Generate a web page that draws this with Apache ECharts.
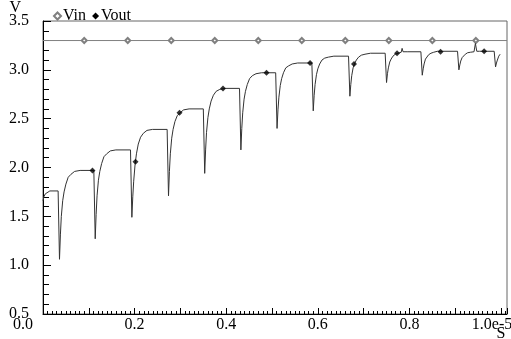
<!DOCTYPE html>
<html>
<head>
<meta charset="utf-8">
<script src="https://cdn.jsdelivr.net/npm/echarts@6/dist/echarts.min.js"></script>
<style>
html,body{margin:0;padding:0;background:#fff;}
#chart{width:511px;height:339px;}
</style>
</head>
<body>
<div id="chart"></div>
<script>
// time values in units of 1e-5 s
var voutT = [
0, 0.002, 0.005, 0.009, 0.015, 0.033,
0.036, 0.038, 0.040, 0.043, 0.046, 0.050, 0.055, 0.061, 0.069, 0.081, 0.111,
0.114, 0.116, 0.118, 0.121, 0.124, 0.128, 0.133, 0.139, 0.147, 0.159, 0.191,
0.194, 0.196, 0.198, 0.201, 0.204, 0.208, 0.213, 0.219, 0.227, 0.239, 0.271,
0.274, 0.276, 0.278, 0.281, 0.284, 0.288, 0.293, 0.299, 0.307, 0.319, 0.350,
0.353, 0.355, 0.357, 0.360, 0.363, 0.367, 0.372, 0.378, 0.386, 0.398, 0.429,
0.432, 0.434, 0.436, 0.439, 0.442, 0.446, 0.451, 0.457, 0.465, 0.477, 0.508,
0.511, 0.513, 0.515, 0.518, 0.521, 0.525, 0.530, 0.536, 0.544, 0.556, 0.587,
0.590, 0.592, 0.594, 0.597, 0.600, 0.604, 0.609, 0.615, 0.623, 0.635, 0.667,
0.670, 0.672, 0.674, 0.677, 0.680, 0.684, 0.689, 0.695, 0.703, 0.715, 0.747,
0.750, 0.752, 0.754, 0.757, 0.760, 0.764, 0.769, 0.775, 0.782, 0.784, 0.786, 0.795, 0.825,
0.828, 0.830, 0.832, 0.835, 0.838, 0.842, 0.847, 0.853, 0.861, 0.873, 0.905,
0.908, 0.910, 0.912, 0.915, 0.918, 0.922, 0.927, 0.933, 0.941, 0.944, 0.947, 0.953, 0.985,
0.988, 0.990, 0.992, 0.995, 0.998
];
var voutV = [
1.66, 1.70, 1.73, 1.75, 1.76, 1.76,
1.06, 1.31, 1.50, 1.66, 1.75, 1.83, 1.90, 1.93, 1.96, 1.97, 1.97,
1.27, 1.52, 1.71, 1.87, 1.96, 2.04, 2.11, 2.14, 2.17, 2.18, 2.18,
1.49, 1.70, 1.86, 2.03, 2.14, 2.24, 2.31, 2.35, 2.38, 2.39, 2.39,
1.71, 1.96, 2.14, 2.30, 2.39, 2.47, 2.53, 2.56, 2.59, 2.60, 2.60,
1.94, 2.18, 2.36, 2.51, 2.60, 2.68, 2.74, 2.78, 2.80, 2.81, 2.81,
2.18, 2.40, 2.56, 2.70, 2.78, 2.85, 2.91, 2.94, 2.96, 2.97, 2.97,
2.40, 2.59, 2.72, 2.84, 2.91, 2.97, 3.02, 3.04, 3.06, 3.07, 3.07,
2.58, 2.74, 2.85, 2.95, 3.01, 3.06, 3.10, 3.12, 3.13, 3.14, 3.14,
2.73, 2.85, 2.94, 3.02, 3.06, 3.10, 3.13, 3.15, 3.16, 3.17, 3.17,
2.87, 2.96, 3.02, 3.08, 3.11, 3.14, 3.16, 3.17, 3.18, 3.22, 3.185, 3.185, 3.185,
2.945, 3.01, 3.06, 3.11, 3.13, 3.155, 3.17, 3.18, 3.19, 3.19, 3.19,
3.00, 3.05, 3.09, 3.125, 3.145, 3.16, 3.175, 3.18, 3.185, 3.27, 3.19, 3.19, 3.19,
3.03, 3.07, 3.10, 3.14, 3.16
];
var voutMarkT = [0.108, 0.202, 0.298, 0.393, 0.488, 0.583, 0.679, 0.773, 0.868, 0.963];
var voutMarkV = [1.97, 2.06, 2.56, 2.81, 2.97, 3.07, 3.06, 3.17, 3.185, 3.19];
var vinLevel = 3.3;
var vinLineT = [0, 1.013];
var vinMarkT = [0.09, 0.185, 0.28, 0.375, 0.47, 0.565, 0.66, 0.755, 0.85, 0.945];
var xTickLabels = {0: '0.0', 2: '0.2', 4: '0.4', 6: '0.6', 8: '0.8', 10: '1.0e-5'};
var yTickLabels = ['0.5', '1.0', '1.5', '2.0', '2.5', '3.0', '3.5'];

var FONT = 'Liberation Serif';
var FS = 16;
var TICK = 'black';
var voutData = voutT.map(function (t, i) { return [t, voutV[i]]; });
var voutMarks = voutMarkT.map(function (t, i) { return [t, voutMarkV[i]]; });
var vinData = [{value: [vinLineT[0], vinLevel], symbol: 'none'}]
  .concat(vinMarkT.map(function (t) { return [t, vinLevel]; }))
  .concat([{value: [vinLineT[1], vinLevel], symbol: 'none'}]);

var chart = echarts.init(document.getElementById('chart'), null, {renderer: 'canvas'});
chart.setOption({
  animation: false,
  backgroundColor: '#fff',
  textStyle: {fontFamily: FONT},
  legend: {
    left: 48, top: 3,
    itemWidth: 7, itemHeight: 7, itemGap: 6,
    textStyle: {fontFamily: FONT, fontSize: FS, color: '#000', padding: [0, 0, 0, -3]},
    data: [{name: 'Vin', icon: 'emptyDiamond'}, {name: 'Vout', icon: 'diamond'}]
  },
  grid: {left: 43, right: 4, top: 21, bottom: 25, containLabel: false, outerBoundsMode: 'none',
    show: true, borderColor: '#666', borderWidth: 1},
  xAxis: {
    type: 'value', min: 0, max: 1.013, interval: 0.1,
    name: 'S', nameLocation: 'end', nameGap: -6, nameMoveOverlap: false,
    nameTextStyle: {fontFamily: FONT, fontSize: FS, color: '#000', align: 'center', verticalAlign: 'top', padding: [12, 0, 0, 0]},
    axisLine: {show: true, onZero: false, lineStyle: {color: '#000', width: 1}},
    axisTick: {show: true, inside: true, length: 6, lineStyle: {color: TICK}},
    minorTick: {show: true, splitNumber: 10, length: 3, lineStyle: {color: TICK}},
    splitLine: {show: false},
    axisLabel: {
      show: true, margin: 3, fontFamily: FONT, fontSize: FS, color: '#000',
      formatter: function (v) {
        var k = Math.round(v * 10);
        if (Math.abs(v * 10 - k) > 1e-6) return '';
        var s = xTickLabels[k];
        if (!s) return '';
        if (k === 0) return '{a|' + s + '}';
        if (k === 10) return '{b|' + s + '}';
        return s;
      },
      rich: {
        a: {fontFamily: FONT, fontSize: FS, color: '#000', padding: [0, 40, 0, 0]},
        b: {fontFamily: FONT, fontSize: FS, color: '#000', padding: [0, 18, 0, 0]}
      }
    }
  },
  yAxis: {
    type: 'value', min: 0.5, max: 3.5, interval: 0.5,
    name: 'V', nameLocation: 'end', nameGap: 5, nameMoveOverlap: false,
    nameTextStyle: {fontFamily: FONT, fontSize: FS, color: '#000', align: 'right', padding: [0, 22, 0, 0]},
    axisLine: {show: true, onZero: false, lineStyle: {color: '#000', width: 1}},
    axisTick: {show: true, inside: true, length: 8, lineStyle: {color: TICK}},
    minorTick: {show: true, splitNumber: 5, length: 6, lineStyle: {color: TICK}},
    splitLine: {show: false},
    axisLabel: {
      show: true, margin: 14, fontFamily: FONT, fontSize: FS, color: '#000',
      formatter: function (v) {
        var k = Math.round((v - 0.5) / 0.5);
        return yTickLabels[k] || '';
      }
    }
  },
  series: [{
    name: 'Vin', type: 'line', data: vinData,
    symbol: 'emptyDiamond', symbolSize: 5, showAllSymbol: true,
    lineStyle: {color: '#808080', width: 1},
    itemStyle: {color: '#808080', borderColor: '#808080', borderWidth: 1},
    z: 2
  }, {
    name: 'Vout', type: 'line', data: voutData,
    symbol: 'none',
    lineStyle: {color: '#333', width: 1},
    itemStyle: {color: '#000'},
    z: 3
  }, {
    name: 'Vout', type: 'scatter', data: voutMarks,
    symbol: 'diamond', symbolSize: 6,
    itemStyle: {color: '#000'},
    z: 4
  }]
});
</script>
</body>
</html>
